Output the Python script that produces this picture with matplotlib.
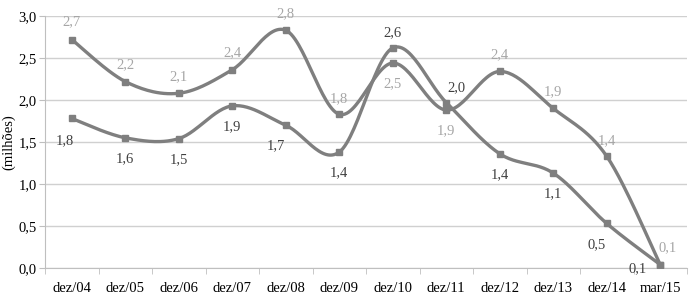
import numpy as np
import matplotlib.pyplot as plt

categorias = ['dez/04', 'dez/05', 'dez/06', 'dez/07', 'dez/08', 'dez/09',
              'dez/10', 'dez/11', 'dez/12', 'dez/13', 'dez/14', 'mar/15']
serie_a = [2.72, 2.22, 2.08, 2.36, 2.83, 1.83, 2.44, 1.88, 2.34, 1.90, 1.33, 0.04]
rotulos_a = ['2,7', '2,2', '2,1', '2,4', '2,8', '1,8', '2,5', '1,9', '2,4', '1,9', '1,4', '0,1']
serie_b = [1.78, 1.55, 1.54, 1.93, 1.70, 1.38, 2.62, 1.97, 1.36, 1.13, 0.53, 0.04]
rotulos_b = ['1,8', '1,6', '1,5', '1,9', '1,7', '1,4', '2,6', '2,0', '1,4', '1,1', '0,5', '0,1']

# deslocamento dos rotulos (pontos)
desl_a = [(0, 13), (0, 12), (0, 12), (0, 12), (0, 12), (0, 11), (0, -15), (0, -15),
          (0, 12), (0, 12), (0, 11), (5, 12)]
desl_b = [(-5, -16), (0, -15), (0, -15), (0, -15), (-7, -15), (0, -15), (0, 11),
          (7, 11), (0, -15), (0, -15), (-7, -15), (-16, -3)]


def suave(x, y, n=30):  # Catmull-Rom (tipo linha suavizada do Excel)
    x = np.asarray(x, float)
    y = np.asarray(y, float)
    px = np.concatenate([[x[0]], x, [x[-1]]])
    py = np.concatenate([[y[0]], y, [y[-1]]])
    xs, ys = [], []
    t = np.linspace(0, 1, n)
    for i in range(1, len(px) - 2):
        p0, p1, p2, p3 = [np.array([px[j], py[j]]) for j in (i - 1, i, i + 1, i + 2)]
        c1 = p1 + (p2 - p0) / 6
        c2 = p2 - (p3 - p1) / 6
        b = ((1 - t) ** 3)[:, None] * p1 + (3 * (1 - t) ** 2 * t)[:, None] * c1 \
            + (3 * (1 - t) * t ** 2)[:, None] * c2 + (t ** 3)[:, None] * p2
        xs.extend(b[:, 0])
        ys.extend(b[:, 1])
    return np.array(xs), np.array(ys)


plt.rcParams['font.family'] = ['Liberation Serif', 'DejaVu Serif']

fig = plt.figure(figsize=(6.99, 2.97), dpi=100)
ax = fig.add_axes([45 / 699, 1 - 268 / 297, 642 / 699, 252 / 297])

x = np.arange(len(categorias))
cor = '#7f7f7f'
for serie, rot, desl, cor_txt in ((serie_a, rotulos_a, desl_a, '#a6a6a6'),
                                  (serie_b, rotulos_b, desl_b, '#404040')):
    sx, sy = suave(x, serie)
    ax.plot(sx, sy, color=cor, lw=2.4, zorder=3)
    ax.plot(x, serie, 's', color=cor, ms=5, zorder=4)
    for xi, yi, r, d in zip(x, serie, rot, desl):
        ax.annotate(r, (xi, yi), xytext=d, textcoords='offset points',
                    ha='center', va='center', fontsize=10.5, color=cor_txt)

ax.set_xlim(-0.5, len(categorias) - 0.5)
ax.set_ylim(0, 3)
ax.set_yticks(np.arange(0, 3.01, 0.5))
ax.set_yticklabels([f'{v:.1f}'.replace('.', ',') for v in np.arange(0, 3.01, 0.5)])
ax.set_xticks(x)
ax.set_xticklabels(categorias)
ax.set_xticks(np.arange(-0.5, len(categorias), 1), minor=True)
ax.tick_params(axis='x', which='major', length=0, pad=10, labelsize=10.5)
ax.tick_params(axis='x', which='minor', length=4, color='#bfbfbf')
ax.tick_params(axis='y', length=4, color='#bfbfbf', labelsize=10.5, pad=2)
ax.grid(axis='y', color='#d0d0d0', lw=1)
ax.set_axisbelow(True)
for s in ('top', 'right'):
    ax.spines[s].set_visible(False)
ax.spines['left'].set_color('#bfbfbf')
ax.spines['bottom'].set_color('#bfbfbf')
ax.set_ylabel('(milhões)', fontsize=10.5, labelpad=2)

fig.savefig('out.png', dpi=100)
